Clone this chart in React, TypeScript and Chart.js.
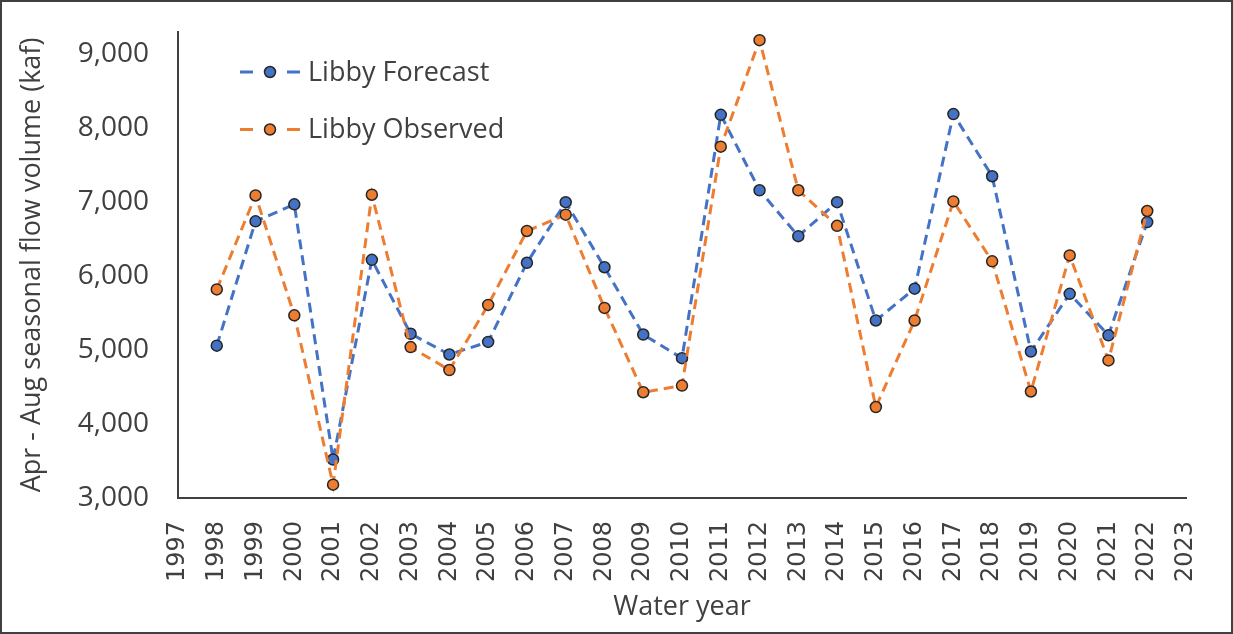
import React, { useEffect, useRef } from "react";
import { Chart, registerables } from "chart.js";

Chart.register(...registerables);

const years = [1998, 1999, 2000, 2001, 2002, 2003, 2004, 2005, 2006, 2007, 2008, 2009, 2010, 2011, 2012, 2013, 2014, 2015, 2016, 2017, 2018, 2019, 2020, 2021, 2022];
const forecast = [5060, 6740, 6970, 3520, 6220, 5220, 4940, 5110, 6180, 7000, 6120, 5210, 4890, 8180, 7160, 6540, 7000, 5400, 5830, 8190, 7350, 4980, 5760, 5200, 6730];
const observed = [5820, 7090, 5470, 3180, 7100, 5040, 4730, 5610, 6610, 6830, 5570, 4430, 4520, 7750, 9190, 7160, 6680, 4230, 5400, 7010, 6200, 4440, 6280, 4860, 6880];
const seriesNames = ["Libby Forecast", "Libby Observed"];
const yTickValues = [3000, 4000, 5000, 6000, 7000, 8000, 9000];
const xAxisTitle = "Water year";
const yAxisTitle = "Apr - Aug seasonal flow volume (kaf)";

const BLUE = "#4472C4";
const ORANGE = "#ED7D31";
const TEXT = "#404040";

const legendPlugin = {
  id: "insideLegend",
  afterDraw(chart: any) {
    const ctx = chart.ctx;
    const ds = chart.data.datasets;
    ctx.save();
    ds.forEach((d: any, i: number) => {
      const y = 72 + i * 57.5;
      ctx.strokeStyle = d.borderColor;
      ctx.lineWidth = 3;
      ctx.setLineDash([]);
      ctx.beginPath();
      ctx.moveTo(240, y);
      ctx.lineTo(253, y);
      ctx.moveTo(287, y);
      ctx.lineTo(300, y);
      ctx.stroke();
      ctx.beginPath();
      ctx.arc(270, y, 5.5, 0, Math.PI * 2);
      ctx.fillStyle = d.pointBackgroundColor;
      ctx.fill();
      ctx.lineWidth = 1.5;
      ctx.strokeStyle = d.pointBorderColor;
      ctx.stroke();
      ctx.fillStyle = TEXT;
      ctx.font = "27px 'Open Sans'";
      ctx.textBaseline = "middle";
      ctx.textAlign = "left";
      ctx.fillText(d.label, 308, y + 1);
    });
    ctx.restore();
  },
};

export default function App() {
  const ref = useRef<HTMLCanvasElement>(null);
  useEffect(() => {
    if (!ref.current) return;
    const mk = (vals: number[]) => years.map((x, i) => ({ x, y: vals[i] }));
    const chart = new Chart(ref.current, {
      type: "line",
      data: {
        datasets: [
          {
            label: seriesNames[0],
            data: mk(forecast),
            borderColor: BLUE,
            backgroundColor: BLUE,
            pointBackgroundColor: BLUE,
            pointBorderColor: "#262626",
            pointBorderWidth: 1.5,
            pointRadius: 5.5,
            borderWidth: 3,
            borderDash: [10, 6],
            tension: 0,
            order: 1,
          },
          {
            label: seriesNames[1],
            data: mk(observed),
            borderColor: ORANGE,
            backgroundColor: ORANGE,
            pointBackgroundColor: ORANGE,
            pointBorderColor: "#262626",
            pointBorderWidth: 1.5,
            pointRadius: 5.5,
            borderWidth: 3,
            borderDash: [10, 6],
            tension: 0,
            order: 0,
          },
        ],
      },
      options: {
        animation: false,
        responsive: false,
        layout: { padding: { top: 32, right: 47, bottom: 10, left: 8 } },
        plugins: { legend: { display: false }, tooltip: { enabled: false } },
        scales: {
          x: {
            type: "linear",
            min: 1997,
            max: 2023,
            grid: { display: false, drawTicks: false },
            border: { display: true, color: TEXT, width: 2 },
            ticks: {
              stepSize: 1,
              autoSkip: false,
              minRotation: 90,
              maxRotation: 90,
              padding: 23,
              color: TEXT,
              font: { family: "'DejaVu Sans'", size: 24 },
              callback: (v: any) => String(v),
            },
            title: {
              display: true,
              text: xAxisTitle,
              color: TEXT,
              font: { family: "'Open Sans'", size: 27 },
              padding: { top: 0, bottom: 0 },
            },
            afterFit: (s: any) => {
              s.height = 126;
              s.paddingLeft = 0;
              s.paddingRight = 0;
            },
          },
          y: {
            type: "linear",
            min: 3000,
            max: 9300,
            grid: { display: false, drawTicks: false },
            border: { display: true, color: TEXT, width: 2 },
            afterBuildTicks: (s: any) => {
              s.ticks = yTickValues.map((value) => ({ value }));
            },
            ticks: {
              padding: 29,
              color: TEXT,
              font: { family: "'Open Sans'", size: 28 },
              callback: (v: any) => Number(v).toLocaleString("en-US"),
            },
            title: {
              display: true,
              text: yAxisTitle,
              color: TEXT,
              font: { family: "'Open Sans'", size: 27 },
              padding: { top: 8, bottom: 0 },
            },
            afterFit: (s: any) => {
              s.width = 170;
              s.paddingTop = 0;
              s.paddingBottom = 0;
            },
          },
        },
      },
      plugins: [legendPlugin],
    });
    return () => chart.destroy();
  }, []);

  return (
    <div
      style={{
        position: "absolute",
        left: 0,
        top: 0,
        width: 1233,
        height: 634,
        background: "#fff",
      }}
    >
      <canvas ref={ref} width={1233} height={634} style={{ display: "block" }} />
      <div
        style={{
          position: "absolute",
          left: 0,
          top: 0,
          width: 1233,
          height: 634,
          boxSizing: "border-box",
          border: "2px solid #404040",
          pointerEvents: "none",
        }}
      />
    </div>
  );
}
